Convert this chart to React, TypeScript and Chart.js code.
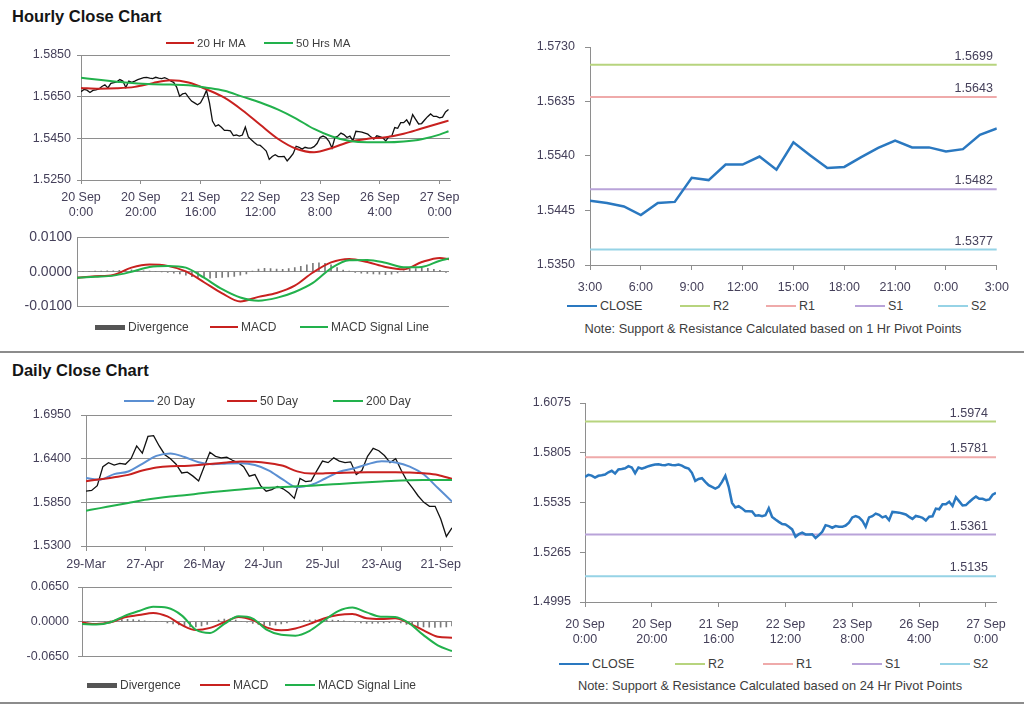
import React, { useEffect, useRef } from "react";
import { Chart, registerables } from "chart.js";

Chart.register(...registerables);

const FONT = "'Liberation Sans', Arial, Helvetica, sans-serif";
Chart.defaults.font.family = FONT;
Chart.defaults.color = "#45405a";

// ---------------- Hourly data ----------------
const hourlyTickHours = [0, 20, 40, 60, 80, 100, 120];
const hourlyTickLabels = [
  ["20 Sep", "0:00"],
  ["20 Sep", "20:00"],
  ["21 Sep", "16:00"],
  ["22 Sep", "12:00"],
  ["23 Sep", "8:00"],
  ["26 Sep", "4:00"],
  ["27 Sep", "0:00"],
];
const hourlyClose = [
  1.5674, 1.5685, 1.5681, 1.567, 1.568, 1.5683, 1.5687, 1.5699, 1.5707, 1.5692,
  1.5714, 1.5717, 1.5721, 1.5732, 1.5725, 1.5694, 1.5725, 1.5719, 1.5725, 1.5732,
  1.5737, 1.5741, 1.5743, 1.5739, 1.5737, 1.5743, 1.5739, 1.5737, 1.5741, 1.5735,
  1.5725, 1.5719, 1.5696, 1.5652, 1.5663, 1.5667, 1.5647, 1.5629, 1.562, 1.5611,
  1.562, 1.5647, 1.568, 1.562, 1.5533, 1.5508, 1.5515, 1.5503, 1.5488, 1.5488,
  1.5486, 1.5463, 1.5466, 1.5461, 1.5466, 1.5504, 1.5457, 1.5443, 1.543, 1.5418,
  1.5416, 1.5403, 1.5389, 1.5349, 1.5363, 1.5371, 1.5362, 1.5362, 1.5363, 1.5342,
  1.5358, 1.5376, 1.5412, 1.5407, 1.5398, 1.5407, 1.5403, 1.5403, 1.541, 1.5425,
  1.5454, 1.5461, 1.5454, 1.5436, 1.5403, 1.5454, 1.5461, 1.5475, 1.5468, 1.5454,
  1.5461, 1.5439, 1.5484, 1.5482, 1.548, 1.5475, 1.547, 1.5457, 1.5446,
  1.5462, 1.5458, 1.5452, 1.5437, 1.5458, 1.546, 1.5502, 1.5498, 1.5525, 1.5525,
  1.5539, 1.5516, 1.5564, 1.5541, 1.5519, 1.5521, 1.5538, 1.5554, 1.5567, 1.5555,
  1.5555, 1.5548, 1.5552, 1.5577, 1.5588,
];
const hourlySampleHours = [0, 6, 12, 18, 24, 30, 36, 42, 48, 54, 60, 66, 72, 78, 84, 90, 96, 102, 108, 114, 120, 123];
const hourlyMA20 = [
  1.5692, 1.5688, 1.569, 1.5697, 1.5715, 1.5729, 1.5718, 1.5685, 1.5645, 1.5585, 1.5515,
  1.5447, 1.54, 1.5383, 1.5404, 1.5434, 1.5448, 1.5455, 1.5472, 1.5497, 1.5522, 1.5535,
];
const hourlyMA50 = [
  1.5741, 1.5731, 1.5722, 1.5714, 1.571, 1.5708, 1.5705, 1.5693, 1.5678, 1.565, 1.5622,
  1.5588, 1.5545, 1.5495, 1.5459, 1.5437, 1.5431, 1.5431, 1.5435, 1.5446, 1.5468, 1.5484,
];
const hourlyPriceTicks = [1.525, 1.545, 1.565, 1.585];

const hourlyMacd = [
  -0.0017, -0.0013, -0.0009, 0.0012, 0.0021, 0.0017, 0.0001, -0.003, -0.0062, -0.0085, -0.0072,
  -0.0061, -0.004, -0.0002, 0.0027, 0.0037, 0.0028, 0.0014, 0.0007, 0.0028, 0.004, 0.0036,
];
const hourlySignal = [
  -0.0017, -0.0014, -0.0011, 0.0, 0.0014, 0.0017, 0.0012, -0.0017, -0.005, -0.0074, -0.0083,
  -0.0075, -0.0058, -0.0032, 0.001, 0.0033, 0.0034, 0.0026, 0.0013, 0.0014, 0.0032, 0.0038,
];
const HOURLY_DIV_STEP = 2;
const hourlyDivergence = [
  0.0, 0.0001, 0.0001, 0.0002, 0.0002, 0.0003, 0.0003, 0.0004, 0.0005, 0.0006,
  0.0005, 0.0003, 0.0002, 0.0001, 0.0, -0.0002, -0.0004, -0.0006, -0.001, -0.0014,
  -0.0016, -0.0017, -0.0018, -0.0017, -0.0016, -0.0015, -0.0013, -0.001, -0.0006, 0.0002,
  0.0008, 0.001, 0.0009, 0.0008, 0.0007, 0.0009, 0.0012, 0.0016, 0.002, 0.0024,
  0.0026, 0.0024, 0.002, 0.0012, 0.0005, 0.0002, -0.0002, -0.0004, -0.0005, -0.0006,
  -0.0007, -0.0008, -0.0007, -0.0003, 0.0003, 0.0007, 0.0009, 0.0011, 0.001, 0.0007,
  0.0004, -0.0002,
];
const hourlyMacdTicks = [-0.01, 0, 0.01];

// last 24 hours (1 Hr pivot)
const lastDayTickHours = [0, 3, 6, 9, 12, 15, 18, 21, 24];
const lastDayTickLabels = ["3:00", "6:00", "9:00", "12:00", "15:00", "18:00", "21:00", "0:00", "3:00"];
const lastDayClose = hourlyClose.slice(-25);
const pivotNames = ["R2", "R1", "S1", "S2"];
const hourlyPivotLevels = [1.5699, 1.5643, 1.5482, 1.5377];
const hourlyPivotTicks = [1.535, 1.5445, 1.554, 1.5635, 1.573];

// ---------------- Daily data ----------------
const dailyTickDays = [0, 21, 42, 63, 84, 105, 126];
const dailyTickLabels = ["29-Mar", "27-Apr", "26-May", "24-Jun", "25-Jul", "23-Aug", "21-Sep"];
const DAILY_CLOSE_STEP = 2;
const dailyClose = [
  1.599, 1.6, 1.606, 1.63, 1.635, 1.632, 1.634, 1.633, 1.64, 1.656,
  1.647, 1.668, 1.669, 1.656, 1.645, 1.64, 1.633, 1.622, 1.623, 1.618,
  1.612, 1.63, 1.648, 1.643, 1.641, 1.642, 1.638, 1.635, 1.63, 1.618,
  1.62, 1.606, 1.599, 1.601, 1.605, 1.602, 1.597, 1.59, 1.615, 1.611,
  1.612, 1.625, 1.637, 1.635, 1.641, 1.637, 1.635, 1.636, 1.62, 1.625,
  1.643, 1.653, 1.65, 1.644, 1.635, 1.64, 1.625, 1.612, 1.603, 1.593,
  1.585, 1.58, 1.58, 1.564, 1.542, 1.553,
];
const DAILY_MA_STEP = 5;
const dailyMA20 = [
  1.6157, 1.6136, 1.6205, 1.6238, 1.6335, 1.6435, 1.6466, 1.642, 1.6355, 1.633, 1.634, 1.6343, 1.632, 1.625,
  1.6135, 1.604, 1.607, 1.615, 1.6235, 1.6275, 1.633, 1.6366, 1.6352, 1.63, 1.62, 1.603, 1.586,
];
const dailyMA50 = [
  1.6116, 1.614, 1.6166, 1.6196, 1.625, 1.629, 1.6305, 1.6308, 1.632, 1.6335, 1.6352, 1.6365, 1.6362, 1.6343,
  1.631, 1.624, 1.6212, 1.6215, 1.622, 1.6225, 1.6228, 1.623, 1.623, 1.6225, 1.6215, 1.6195, 1.6145,
];
const dailyMA200 = [
  1.5745, 1.5777, 1.581, 1.5842, 1.5875, 1.59, 1.5922, 1.594, 1.596, 1.598, 1.5997, 1.6012, 1.6028, 1.6035,
  1.6043, 1.6052, 1.606, 1.607, 1.6082, 1.6093, 1.6103, 1.6113, 1.6122, 1.6127, 1.613, 1.6132, 1.6132,
];
const dailyPriceTicks = [1.53, 1.585, 1.64, 1.695];

const dailyMacd = [
  -0.0016, -0.0043, -0.001, 0.0085, 0.0125, 0.0165, 0.01, -0.006, -0.0155, -0.0115, -0.001, 0.0091, 0.003, -0.011,
  -0.016, -0.0125, -0.004, 0.006, 0.0125, 0.0144, 0.0065, 0.005, 0.0064, -0.003, -0.016, -0.028, -0.0299,
];
const dailySignal = [
  -0.0043, -0.0053, -0.001, 0.011, 0.02, 0.028, 0.026, 0.012, -0.015, -0.021, -0.004, 0.0101, 0.006, -0.015,
  -0.0245, -0.026, -0.017, 0.002, 0.02, 0.0267, 0.0175, 0.0095, 0.009, -0.003, -0.025, -0.044, -0.0549,
];
const DAILY_DIV_STEP = 2;
const dailyDivergence = [
  0.0005, 0.0003, 0.0002, 0.0, 0.0005, 0.0015, 0.003, 0.004, 0.0045, 0.004,
  0.003, 0.0015, 0.001, 0.0008, 0.0, -0.002, -0.004, -0.006, -0.008, -0.0095,
  -0.0098, -0.008, -0.005, 0.0, 0.003, 0.005, 0.005, 0.003, 0.001, -0.001,
  -0.003, -0.005, -0.0065, -0.0068, -0.006, -0.004, -0.002, 0.0, 0.0015, 0.0025,
  0.003, 0.0035, 0.004, 0.0035, 0.003, 0.0025, 0.0015, 0.0005, -0.001, -0.002,
  -0.003, -0.003, -0.0025, -0.002, -0.0015, -0.001, -0.002, -0.005, -0.007, -0.0085,
  -0.0095, -0.01, -0.0105, -0.01, -0.0095, -0.008,
];
const dailyMacdTicks = [-0.065, 0, 0.065];

const dailyPivotLevels = [1.5974, 1.5781, 1.5361, 1.5135];
const dailyPivotTicks = [1.4995, 1.5265, 1.5535, 1.5805, 1.6075];

// ---------------- Styles ----------------
const RED = "#c8211f";
const GREEN = "#22b14c";
const BLUE = "#2a78c0";
const SKY = "#5b8fd2";
const PIVOT_COLORS = ["#b7d47e", "#efaaaa", "#b9a3d9", "#96d3e6"];
const DIV_COLOR = "#7a7a7a";
const GRID = "#8e8e8e";
const TICK = "#45405a";
const TOP_PAD = 20;

const seq = (ys: number[], step: number) => ys.map((y, i) => ({ x: i * step, y }));
const pts = (xs: number[], ys: number[]) => ys.map((y, i) => ({ x: xs[i], y }));

function yAxis(ticks: number[], o: { size: number; tickLen: number; pad: number; width: number; grid: boolean }) {
  return {
    type: "linear",
    position: "left",
    min: ticks[0],
    max: ticks[ticks.length - 1],
    afterBuildTicks: (s: any) => {
      s.ticks = ticks.map((v) => ({ value: v }));
    },
    afterFit: (s: any) => {
      s.width = o.width;
    },
    ticks: {
      color: TICK,
      padding: o.pad,
      font: { size: o.size },
      callback: (v: any) => Number(v).toFixed(4),
    },
    grid: {
      drawOnChartArea: o.grid,
      drawTicks: o.tickLen > 0,
      tickLength: o.tickLen,
      color: GRID,
      lineWidth: 1,
    },
    border: { display: true, color: GRID, width: 1 },
  };
}

function xAxis(
  min: number,
  max: number,
  tickVals: number[],
  labels: any[],
  o: { size: number; tickLen: number; pad: number; height: number; display?: boolean }
) {
  return {
    type: "linear",
    position: "bottom",
    min,
    max,
    offset: false,
    display: o.display === undefined ? true : o.display,
    afterBuildTicks: (s: any) => {
      s.ticks = tickVals.map((v) => ({ value: v }));
    },
    afterFit: (s: any) => {
      s.height = o.height;
    },
    ticks: {
      autoSkip: false,
      maxRotation: 0,
      minRotation: 0,
      color: TICK,
      padding: o.pad,
      font: { size: o.size, lineHeight: 1.2 },
      callback: (_v: any, i: number) => labels[i],
    },
    grid: { drawOnChartArea: false, drawTicks: true, tickLength: o.tickLen, color: GRID },
    border: { display: true, color: GRID },
  };
}

const pivotLabelPlugin = {
  id: "pivotLabels",
  afterDatasetsDraw(chart: any) {
    const { ctx, chartArea, scales } = chart;
    chart.data.datasets.forEach((ds: any) => {
      if (ds.pivotValue === undefined) return;
      const y = scales.y.getPixelForValue(ds.pivotValue);
      ctx.save();
      ctx.font = `12.5px ${FONT}`;
      ctx.fillStyle = TICK;
      ctx.textAlign = "right";
      ctx.textBaseline = "bottom";
      ctx.fillText(ds.pivotValue.toFixed(4), chartArea.right - ds.labelInset, y - 2);
      ctx.restore();
    });
  },
};

type PanelProps = {
  L: number;
  T: number;
  R: number;
  B: number;
  yw: number;
  xh: number;
  pr: number;
  pb?: number;
  make: () => any;
};

function ChartPanel(p: PanelProps) {
  const ref = useRef<HTMLCanvasElement | null>(null);
  const pt = TOP_PAD;
  const left = p.L - p.yw;
  const top = p.T - pt;
  const width = p.R + p.pr - left;
  const height = p.B + p.xh + (p.pb || 0) - top;
  useEffect(() => {
    if (!ref.current) return;
    const cfg = p.make();
    cfg.options = {
      ...cfg.options,
      responsive: false,
      maintainAspectRatio: false,
      animation: false,
      devicePixelRatio: 1,
      events: [],
      layout: { padding: { left: 0, top: pt, right: p.pr, bottom: p.pb || 0 } },
      plugins: { legend: { display: false }, tooltip: { enabled: false }, title: { display: false } },
      elements: { point: { radius: 0 }, line: { tension: 0 } },
    };
    const chart = new Chart(ref.current, cfg);
    return () => chart.destroy();
  }, []);
  return (
    <canvas
      ref={ref}
      width={width}
      height={height}
      style={{ position: "absolute", left, top, width, height }}
    />
  );
}

type LegendItem = { label: string; color: string; kind: "line" | "bar"; x: number; w: number };

function Legend({ y, items, size }: { y: number; items: LegendItem[]; size: number }) {
  return (
    <>
      {items.map((it) => (
        <div
          key={it.label}
          style={{
            position: "absolute",
            left: it.x,
            top: y - 9,
            height: 18,
            display: "flex",
            alignItems: "center",
            whiteSpace: "nowrap",
            fontSize: size,
            color: "#3d3d3d",
            fontFamily: FONT,
          }}
        >
          <span
            style={{
              display: "inline-block",
              width: it.w,
              height: it.kind === "bar" ? 5 : 2,
              background: it.color,
              marginRight: 3,
            }}
          />
          <span>{it.label}</span>
        </div>
      ))}
    </>
  );
}

function Note({ cx, y, text }: { cx: number; y: number; text: string }) {
  return (
    <div
      style={{
        position: "absolute",
        left: cx - 250,
        width: 500,
        top: y - 9,
        height: 18,
        lineHeight: "18px",
        textAlign: "center",
        fontSize: 12.8,
        color: "#3d3d3d",
        fontFamily: FONT,
        whiteSpace: "nowrap",
      }}
    >
      {text}
    </div>
  );
}

const titleStyle = (top: number): React.CSSProperties => ({
  position: "absolute",
  left: 12,
  top,
  fontFamily: FONT,
  fontWeight: "bold",
  fontSize: 16.5,
  lineHeight: "20px",
  color: "#151515",
  whiteSpace: "nowrap",
});

const pivotDatasets = (levels: number[], xMax: number, inset: number) =>
  levels.map((v, i) => ({
    label: pivotNames[i],
    data: [
      { x: 0, y: v },
      { x: xMax, y: v },
    ],
    borderColor: PIVOT_COLORS[i],
    borderWidth: 2,
    order: 2,
    pivotValue: v,
    labelInset: inset,
  }));

const makeHourlyPrice = () => ({
  type: "line",
  data: {
    datasets: [
      { label: "Close", data: seq(hourlyClose, 1), borderColor: "#111111", borderWidth: 1.3, order: 3 },
      {
        label: "20 Hr MA",
        data: pts(hourlySampleHours, hourlyMA20),
        borderColor: RED,
        borderWidth: 2,
        cubicInterpolationMode: "monotone",
        order: 2,
      },
      {
        label: "50 Hrs MA",
        data: pts(hourlySampleHours, hourlyMA50),
        borderColor: GREEN,
        borderWidth: 2,
        cubicInterpolationMode: "monotone",
        order: 1,
      },
    ],
  },
  options: {
    scales: {
      x: xAxis(0, 123.5, hourlyTickHours, hourlyTickLabels, { size: 12.5, tickLen: 4, pad: 6, height: 40 }),
      y: yAxis(hourlyPriceTicks, { size: 12.5, tickLen: 4, pad: 6, width: 60, grid: true }),
    },
  },
});

const makeHourlyMacd = () => ({
  type: "line",
  data: {
    datasets: [
      {
        type: "bar",
        label: "Divergence",
        data: seq(hourlyDivergence, HOURLY_DIV_STEP),
        backgroundColor: DIV_COLOR,
        barThickness: 1,
        order: 3,
      },
      {
        label: "MACD",
        data: pts(hourlySampleHours, hourlyMacd),
        borderColor: RED,
        borderWidth: 2,
        cubicInterpolationMode: "monotone",
        order: 2,
      },
      {
        label: "MACD Signal Line",
        data: pts(hourlySampleHours, hourlySignal),
        borderColor: GREEN,
        borderWidth: 2,
        cubicInterpolationMode: "monotone",
        order: 1,
      },
    ],
  },
  options: {
    scales: {
      x: xAxis(0, 123, hourlyTickHours, hourlyTickLabels, { size: 12, tickLen: 0, pad: 0, height: 0, display: false }),
      y: yAxis(hourlyMacdTicks, { size: 14, tickLen: 0, pad: 5, width: 65, grid: true }),
    },
  },
});

const makeHourlyPivot = () => ({
  type: "line",
  data: {
    datasets: [
      { label: "CLOSE", data: seq(lastDayClose, 1), borderColor: BLUE, borderWidth: 2.5, order: 1 },
      ...pivotDatasets(hourlyPivotLevels, 24, 4),
    ],
  },
  options: {
    scales: {
      x: xAxis(0, 24, lastDayTickHours, lastDayTickLabels, { size: 12.5, tickLen: 5, pad: 10, height: 32 }),
      y: yAxis(hourlyPivotTicks, { size: 12.5, tickLen: 5, pad: 10, width: 70, grid: false }),
    },
  },
  plugins: [pivotLabelPlugin],
});

const makeDailyPrice = () => ({
  type: "line",
  data: {
    datasets: [
      { label: "Close", data: seq(dailyClose, DAILY_CLOSE_STEP), borderColor: "#111111", borderWidth: 1.3, order: 4 },
      {
        label: "20 Day",
        data: seq(dailyMA20, DAILY_MA_STEP),
        borderColor: SKY,
        borderWidth: 2,
        cubicInterpolationMode: "monotone",
        order: 3,
      },
      {
        label: "50 Day",
        data: seq(dailyMA50, DAILY_MA_STEP),
        borderColor: RED,
        borderWidth: 2,
        cubicInterpolationMode: "monotone",
        order: 2,
      },
      {
        label: "200 Day",
        data: seq(dailyMA200, DAILY_MA_STEP),
        borderColor: GREEN,
        borderWidth: 2,
        cubicInterpolationMode: "monotone",
        order: 1,
      },
    ],
  },
  options: {
    scales: {
      x: xAxis(0, 130, dailyTickDays, dailyTickLabels, { size: 12.5, tickLen: 5, pad: 6, height: 28 }),
      y: yAxis(dailyPriceTicks, { size: 12.5, tickLen: 5, pad: 10, width: 62, grid: true }),
    },
  },
});

const makeDailyMacd = () => ({
  type: "line",
  data: {
    datasets: [
      {
        type: "bar",
        label: "Divergence",
        data: seq(dailyDivergence, DAILY_DIV_STEP),
        backgroundColor: DIV_COLOR,
        barThickness: 1,
        order: 3,
      },
      {
        label: "MACD",
        data: seq(dailyMacd, DAILY_MA_STEP),
        borderColor: RED,
        borderWidth: 2,
        cubicInterpolationMode: "monotone",
        order: 2,
      },
      {
        label: "MACD Signal Line",
        data: seq(dailySignal, DAILY_MA_STEP),
        borderColor: GREEN,
        borderWidth: 2,
        cubicInterpolationMode: "monotone",
        order: 1,
      },
    ],
  },
  options: {
    scales: {
      x: xAxis(0, 130, dailyTickDays, dailyTickLabels, { size: 12, tickLen: 0, pad: 0, height: 0, display: false }),
      y: yAxis(dailyMacdTicks, { size: 12.5, tickLen: 4, pad: 9, width: 60, grid: true }),
    },
  },
});

const makeDailyPivot = () => ({
  type: "line",
  data: {
    datasets: [
      { label: "CLOSE", data: seq(hourlyClose, 1), borderColor: BLUE, borderWidth: 2.5, order: 1 },
      ...pivotDatasets(dailyPivotLevels, 123, 8),
    ],
  },
  options: {
    scales: {
      x: xAxis(0, 123, hourlyTickHours, hourlyTickLabels, { size: 12.5, tickLen: 5, pad: 10, height: 45 }),
      y: yAxis(dailyPivotTicks, { size: 12.5, tickLen: 5, pad: 9, width: 65, grid: false }),
    },
  },
  plugins: [pivotLabelPlugin],
});

const pivotLegend = (xs: number[]): LegendItem[] => [
  { label: "CLOSE", color: BLUE, kind: "line", x: xs[0], w: 30 },
  ...pivotNames.map((n, i) => ({ label: n, color: PIVOT_COLORS[i], kind: "line" as const, x: xs[i + 1], w: 30 })),
];

export default function App() {
  return (
    <div
      style={{
        position: "absolute",
        left: 0,
        top: 0,
        width: 1024,
        height: 706,
        background: "#ffffff",
        overflow: "hidden",
        fontFamily: FONT,
      }}
    >
      <div style={titleStyle(6)}>Hourly Close Chart</div>
      <div style={titleStyle(360)}>Daily Close Chart</div>

      <ChartPanel L={81} T={55} R={450} B={180} yw={60} xh={40} pr={22} make={makeHourlyPrice} />
      <ChartPanel L={77} T={237} R={449} B={314} yw={65} xh={0} pr={10} pb={6} make={makeHourlyMacd} />
      <ChartPanel L={590} T={47} R={997} B={265} yw={70} xh={32} pr={22} make={makeHourlyPivot} />
      <ChartPanel L={86} T={415} R={452} B={546} yw={62} xh={28} pr={22} make={makeDailyPrice} />
      <ChartPanel L={82} T={587} R={452} B={667} yw={60} xh={0} pr={10} pb={6} make={makeDailyMacd} />
      <ChartPanel L={585} T={403} R={996} B={602} yw={65} xh={45} pr={22} make={makeDailyPivot} />

      <Legend
        y={43}
        size={11.5}
        items={[
          { label: "20 Hr MA", color: RED, kind: "line", x: 166, w: 28 },
          { label: "50 Hrs MA", color: GREEN, kind: "line", x: 264, w: 29 },
        ]}
      />
      <Legend
        y={327}
        size={12}
        items={[
          { label: "Divergence", color: "#555555", kind: "bar", x: 95, w: 30 },
          { label: "MACD", color: RED, kind: "line", x: 210, w: 28 },
          { label: "MACD Signal Line", color: GREEN, kind: "line", x: 300, w: 28 },
        ]}
      />
      <Legend y={306} size={12.5} items={pivotLegend([567, 680, 766, 855, 938])} />
      <Note cx={773} y={329} text="Note: Support & Resistance Calculated based on 1 Hr Pivot Points" />

      <Legend
        y={401}
        size={12}
        items={[
          { label: "20 Day", color: SKY, kind: "line", x: 124, w: 30 },
          { label: "50 Day", color: RED, kind: "line", x: 227, w: 30 },
          { label: "200 Day", color: GREEN, kind: "line", x: 333, w: 30 },
        ]}
      />
      <Legend
        y={685}
        size={12}
        items={[
          { label: "Divergence", color: "#555555", kind: "bar", x: 87, w: 30 },
          { label: "MACD", color: RED, kind: "line", x: 200, w: 30 },
          { label: "MACD Signal Line", color: GREEN, kind: "line", x: 285, w: 30 },
        ]}
      />
      <Legend y={664} size={12.5} items={pivotLegend([559, 675, 763, 852, 940])} />
      <Note cx={770} y={686} text="Note: Support & Resistance Calculated based on 24 Hr Pivot Points" />

      <div style={{ position: "absolute", left: 0, top: 351, width: 1024, height: 2, background: "#8c8c8c" }} />
      <div style={{ position: "absolute", left: 0, top: 702, width: 1024, height: 2, background: "#8c8c8c" }} />
    </div>
  );
}
